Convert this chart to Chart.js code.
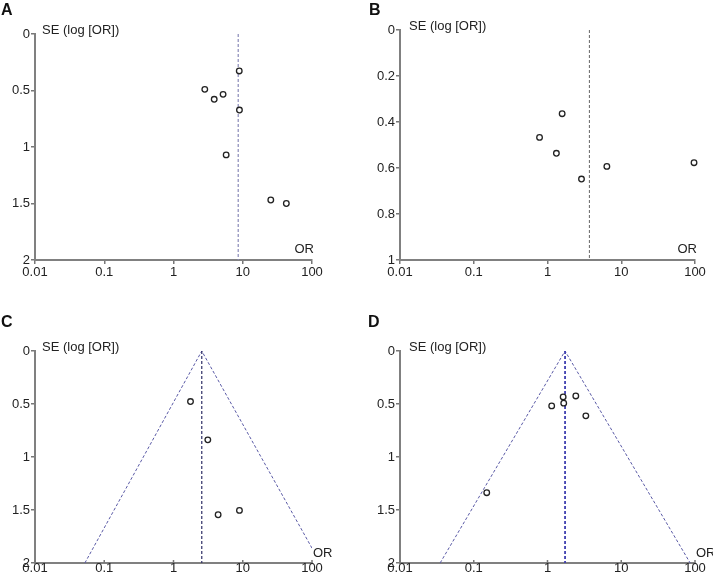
<!DOCTYPE html>
<html>
<head>
<meta charset="utf-8">
<script src="https://cdn.jsdelivr.net/npm/chart.js@4.4.1/dist/chart.umd.min.js"></script>
<style>
    body { margin: 0; background: #fff; }
    #wrap { position: relative; width: 713px; height: 580px; }
    canvas { position: absolute; }
</style>
</head>
<body>
<div id="wrap">
    <canvas id="chartA" width="356" height="290" style="left:0;top:0"></canvas>
    <canvas id="chartB" width="357" height="290" style="left:356px;top:0"></canvas>
    <canvas id="chartC" width="356" height="290" style="left:0;top:290px"></canvas>
    <canvas id="chartD" width="357" height="290" style="left:356px;top:290px"></canvas>
</div>
<script>
// shared x axis (odds ratio, log scale)
const xTicks = [0.01, 0.1, 1, 10, 100];
const xTickLabels = ['0.01', '0.1', '1', '10', '100'];

// y axis ticks (standard error of log OR)
const seTicks2 = [0, 0.5, 1, 1.5, 2];
const seTickLabels2 = ['0', '0.5', '1', '1.5', '2'];
const seTicks1 = [0, 0.2, 0.4, 0.6, 0.8, 1];
const seTickLabels1 = ['0', '0.2', '0.4', '0.6', '0.8', '1'];

// Panel A
const orA = [8.9, 2.83, 3.87, 5.2, 8.96, 5.76, 25.4, 42.6];
const seA = [0.327, 0.49, 0.578, 0.534, 0.673, 1.07, 1.469, 1.5];
const pooledA = 8.6;

// Panel B
const orB = [1.58, 0.78, 1.32, 2.89, 6.38, 97];
const seB = [0.364, 0.467, 0.536, 0.648, 0.593, 0.577];
const pooledB = 3.7;

// Panel C
const orC = [1.76, 3.13, 4.41, 8.96];
const seC = [0.477, 0.838, 1.545, 1.504];
const pooledC = 2.56;
const funnelOrC = [0.0525, 2.56, 100];
const funnelSeC = [2, 0, 1.86];

// Panel D
const orD = [1.63, 1.66, 2.42, 1.14, 3.31, 0.15];
const seD = [0.433, 0.492, 0.424, 0.518, 0.612, 1.337];
const pooledD = 1.73;
const funnelOrD = [0.035, 1.73, 86];
const funnelSeD = [2, 0, 2];

const FONT = '"Liberation Sans", Arial, sans-serif';

// panel letter, y-axis title and "OR" label
const labelsPlugin = {
    id: 'panelLabels',
    afterDraw(chart, args, opts) {
        const ctx = chart.ctx;
        const area = chart.chartArea;
        ctx.save();
        ctx.fillStyle = '#111';
        ctx.font = 'bold 16px ' + FONT;
        ctx.textBaseline = 'top';
        ctx.textAlign = 'left';
        ctx.fillText(opts.letter, opts.letterX, opts.letterY);

        ctx.font = '13px ' + FONT;
        ctx.textBaseline = 'alphabetic';
        ctx.fillStyle = '#222';
        ctx.fillText('SE (log [OR])', area.left + opts.titleDx, area.top - 0.5);

        if (opts.orOutside) {
            ctx.textAlign = 'left';
            ctx.fillText('OR', area.right + 1, area.bottom - 6);
            // short inward tick marks on the x axis
            const xs = chart.scales.x;
            ctx.strokeStyle = '#777';
            ctx.lineWidth = 1.5;
            xTicks.forEach(v => {
                const px = xs.getPixelForValue(v);
                ctx.beginPath();
                ctx.moveTo(px, area.bottom);
                ctx.lineTo(px, area.bottom - 3);
                ctx.stroke();
            });
        } else {
            ctx.textAlign = 'right';
            ctx.fillText('OR', area.right + 2, area.bottom - 7.5);
        }
        ctx.restore();
    }
};

function toPoints(xs, ys) {
    return xs.map((v, i) => ({ x: v, y: ys[i] }));
}

function makeFunnel(id, cfg) {
    const datasets = [{
        data: toPoints(cfg.or, cfg.se),
        pointRadius: 2.8,
        pointBorderWidth: 1.3,
        pointBorderColor: '#222',
        pointBackgroundColor: '#fff',
        showLine: false,
        clip: false
    }, {
        data: [{ x: cfg.pooled, y: 0 }, { x: cfg.pooled, y: cfg.seMax }],
        showLine: true,
        pointRadius: 0,
        borderColor: cfg.midColor,
        borderWidth: cfg.midWidth,
        borderDash: [3, 2]
    }];
    if (cfg.funnelOr) {
        datasets.push({
            data: toPoints(cfg.funnelOr, cfg.funnelSe),
            showLine: true,
            pointRadius: 0,
            borderColor: '#5a5aa6',
            borderWidth: 1,
            borderDash: [3, 2]
        });
    }

    const ctx = document.getElementById(id).getContext('2d');
    return new Chart(ctx, {
        type: 'scatter',
        data: { datasets: datasets },
        options: {
            responsive: false,
            animation: false,
            layout: { padding: { top: cfg.padTop, right: cfg.padRight, left: 0, bottom: 0 } },
            plugins: {
                legend: { display: false },
                tooltip: { enabled: false },
                panelLabels: {
                    letter: cfg.letter,
                    letterX: cfg.letterX,
                    letterY: cfg.letterY,
                    titleDx: cfg.titleDx,
                    orOutside: !!cfg.funnelOr
                }
            },
            scales: {
                x: {
                    type: 'logarithmic',
                    min: 0.01,
                    max: 100,
                    afterBuildTicks: (scale) => {
                        scale.ticks = xTicks.map(v => ({ value: v }));
                    },
                    afterFit: (scale) => { scale.height = cfg.xHeight; },
                    ticks: {
                        callback: (value, index) => xTickLabels[index],
                        color: '#222',
                        font: { family: FONT, size: 13 },
                        padding: cfg.xPad,
                        maxRotation: 0,
                        autoSkip: false
                    },
                    grid: { drawOnChartArea: false, drawTicks: !cfg.funnelOr, tickLength: 4, color: '#777', lineWidth: 1.5 },
                    border: { display: true, color: '#808080', width: 2 }
                },
                y: {
                    type: 'linear',
                    min: 0,
                    max: cfg.seMax,
                    reverse: true,
                    afterBuildTicks: (scale) => {
                        scale.ticks = cfg.yTicks.map(v => ({ value: v }));
                    },
                    afterFit: (scale) => { scale.width = cfg.yWidth; },
                    ticks: {
                        callback: (value, index) => cfg.yLabels[index],
                        color: '#222',
                        font: { family: FONT, size: 13 },
                        padding: 1,
                        autoSkip: false
                    },
                    grid: { drawOnChartArea: false, drawTicks: true, tickLength: 4, color: '#777', lineWidth: 1.5 },
                    border: { display: true, color: '#808080', width: 2 }
                }
            }
        },
        plugins: [labelsPlugin]
    });
}

makeFunnel('chartA', {
    or: orA, se: seA, pooled: pooledA, seMax: 2,
    yTicks: seTicks2, yLabels: seTickLabels2,
    midColor: '#8a8ab8', midWidth: 1.2,
    padTop: 34, padRight: 44, xHeight: 30, yWidth: 35, xPad: 1,
    letter: 'A', letterX: 1, letterY: 3, titleDx: 7
});

makeFunnel('chartB', {
    or: orB, se: seB, pooled: pooledB, seMax: 1,
    yTicks: seTicks1, yLabels: seTickLabels1,
    midColor: '#666', midWidth: 1,
    padTop: 30, padRight: 18, xHeight: 30, yWidth: 44, xPad: 1,
    letter: 'B', letterX: 13, letterY: 3, titleDx: 9
});

makeFunnel('chartC', {
    or: orC, se: seC, pooled: pooledC, seMax: 2,
    yTicks: seTicks2, yLabels: seTickLabels2,
    midColor: '#2e2e66', midWidth: 1.2,
    funnelOr: funnelOrC, funnelSe: funnelSeC,
    padTop: 61, padRight: 44, xHeight: 17, yWidth: 35, xPad: -2,
    letter: 'C', letterX: 1, letterY: 25, titleDx: 7
});

makeFunnel('chartD', {
    or: orD, se: seD, pooled: pooledD, seMax: 2,
    yTicks: seTicks2, yLabels: seTickLabels2,
    midColor: '#3f3fb0', midWidth: 1.8,
    funnelOr: funnelOrD, funnelSe: funnelSeD,
    padTop: 61, padRight: 18, xHeight: 17, yWidth: 44, xPad: -2,
    letter: 'D', letterX: 12, letterY: 25, titleDx: 9
});
</script>
</body>
</html>
